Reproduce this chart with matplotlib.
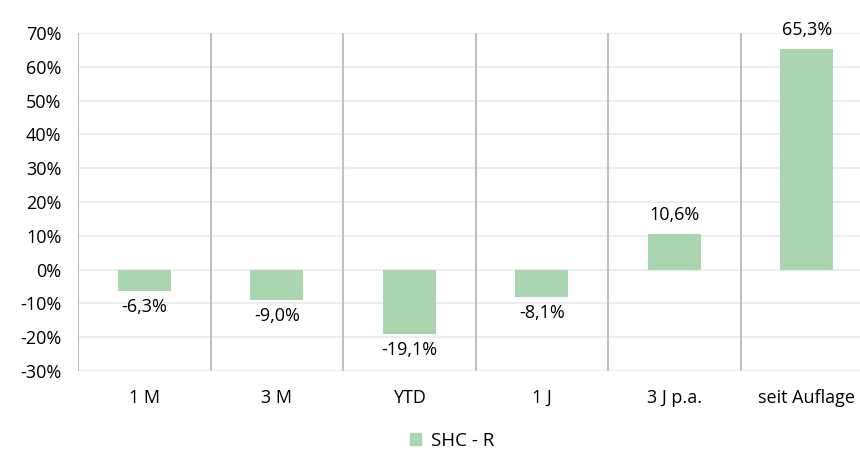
import matplotlib
matplotlib.use("Agg")
import matplotlib.pyplot as plt
from matplotlib.patches import Patch

categories = ["1 M", "3 M", "YTD", "1 J", "3 J p.a.", "seit Auflage"]
values = [-6.3, -9.0, -19.1, -8.1, 10.6, 65.3]
yticks = [-30, -20, -10, 0, 10, 20, 30, 40, 50, 60, 70]
series_name = "SHC - R"

plt.rcParams['font.family'] = ['Open Sans', 'DejaVu Sans']
bar_color = "#a9d5b0"
fs = 13

fig = plt.figure(figsize=(8.6, 4.51), dpi=100)
ax = fig.add_axes([78/860, 80/451, 795/860, 338/451])

x = list(range(len(categories)))
ax.bar(x, values, width=0.4, color=bar_color, zorder=3)

ax.set_xlim(-0.5, len(categories) - 0.5)
ax.set_ylim(-30, 70)
ax.set_yticks(yticks)
ax.set_yticklabels([f"{t}%" for t in yticks], fontsize=fs)
ax.set_xticks(x)
ax.set_xticklabels(categories, fontsize=fs)
ax.tick_params(axis='both', length=0, colors="#000000")
ax.tick_params(axis='x', pad=13)
ax.tick_params(axis='y', pad=12)

for y in yticks:
    ax.axhline(y, color="#eeeeee", linewidth=1.5, zorder=1)
for i in range(len(categories)):
    ax.axvline(i - 0.5, color="#c0c0c0", linewidth=1.5, zorder=2)

for s in ax.spines.values():
    s.set_visible(False)

for xi, v in zip(x, values):
    label = f"{v:.1f}%".replace(".", ",")
    if v >= 0:
        ax.annotate(label, (xi, v), xytext=(0, 7), textcoords="offset points",
                    ha="center", va="bottom", fontsize=fs)
    else:
        ax.annotate(label, (xi, v), xytext=(0, -5), textcoords="offset points",
                    ha="center", va="top", fontsize=fs)

fig.legend(handles=[Patch(color=bar_color, label=series_name)],
           loc="center", bbox_to_anchor=(452/860, 1 - 441/451), frameon=False,
           fontsize=13.5, handlelength=0.6, handleheight=0.6, handletextpad=0.5)

fig.savefig("out.png", dpi=100)
